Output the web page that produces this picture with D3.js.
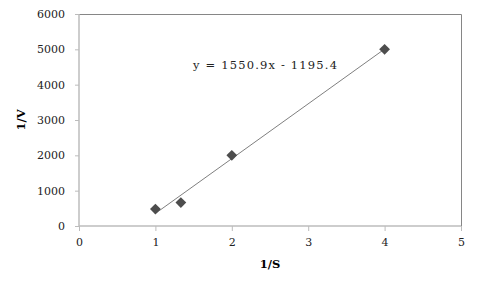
<!DOCTYPE html>
<html><head><meta charset="utf-8">
<script src="https://cdn.jsdelivr.net/npm/d3@7"></script>
<style>body{margin:0;background:#fff}</style>
</head><body>
<script>
const xValues = [1, 1.3333, 2, 4];
const yValues = [478, 664, 2000, 5000];
const xTicks = [0, 1, 2, 3, 4, 5];
const yTicks = [0, 1000, 2000, 3000, 4000, 5000, 6000];
const slope = 1550.9, intercept = -1195.4;
const eqLabel = "y = 1550.9x - 1195.4";

const W = 480, H = 288;
const m = {l: 79, r: 19, t: 14, b: 62};
const svg = d3.select("body").append("svg").attr("width", W).attr("height", H);
const x = d3.scaleLinear().domain([0, 5]).range([m.l, W - m.r]);
const y = d3.scaleLinear().domain([0, 6000]).range([H - m.b, m.t]);
const font = "DejaVu Serif";

svg.append("path").attr("d", `M${x(0)},${y(6000)+0.5}H${x(5)+0.5}V${y(0)}`)
  .attr("fill","none").attr("stroke","#868686").attr("stroke-width",1);

const xa = svg.append("g").attr("transform",`translate(0,${y(0)})`)
  .call(d3.axisBottom(x).tickValues(xTicks).tickSize(5).tickPadding(7).tickFormat(d3.format("d")));
const ya = svg.append("g").attr("transform",`translate(${x(0)},0)`)
  .call(d3.axisLeft(y).tickValues(yTicks).tickSize(4).tickPadding(10).tickFormat(d3.format("d")));
[xa, ya].forEach(a => {
  a.select(".domain").attr("stroke","#bcbcbc").attr("stroke-width",1.5);
  a.selectAll(".tick line").attr("stroke","#bcbcbc");
  a.selectAll(".tick text").attr("font-family",font).attr("font-size",11).attr("fill","#222");
});
ya.select(".domain").attr("d", `M-0,${y(6000)}V${y(0)}`);
xa.select(".domain").attr("d", `M${x(0)},0H${x(5)}`);

const x0 = d3.min(xValues), x1 = d3.max(xValues);
svg.append("line").attr("x1", x(x0)).attr("y1", y(slope*x0+intercept))
  .attr("x2", x(x1)).attr("y2", y(slope*x1+intercept))
  .attr("stroke","#7f7f7f").attr("stroke-width",1);

svg.selectAll("path.pt").data(xValues).enter().append("path").attr("class","pt")
  .attr("d", d3.symbol().type(d3.symbolSquare).size(58))
  .attr("transform",(d,i)=>`translate(${x(d)},${y(yValues[i])}) rotate(45)`)
  .attr("fill","#4d4d4d");

svg.append("text").attr("x", 193).attr("y", 69).text(eqLabel)
  .attr("font-family",font).attr("font-size",11.5).attr("fill","#222")
  .attr("textLength",144).attr("lengthAdjust","spacing");

svg.append("text").attr("x",(x(0)+x(5))/2).attr("y",268).attr("text-anchor","middle")
  .attr("font-family",font).attr("font-size",11.5).attr("font-weight","bold").text("1/S");
svg.append("text").attr("transform",`translate(25,${(y(0)+y(6000))/2}) rotate(-90)`)
  .attr("text-anchor","middle").attr("font-family",font).attr("font-size",11.5)
  .attr("font-weight","bold").text("1/V");
</script>
</body></html>
